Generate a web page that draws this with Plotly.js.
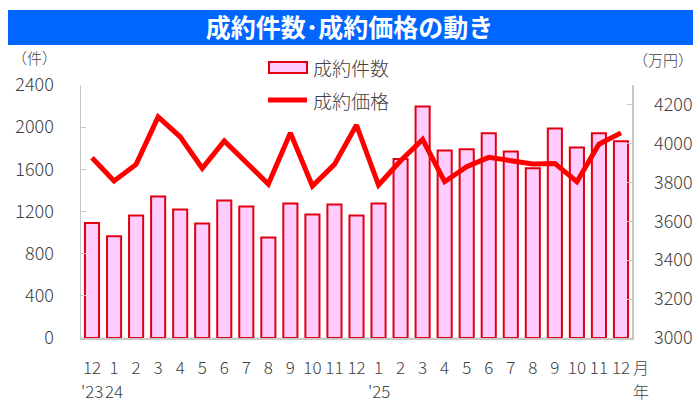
<!DOCTYPE html>
<html>
<head>
<meta charset="utf-8">
<script src="https://cdn.plot.ly/plotly-3.0.1.min.js"></script>
<style>
  html, body { margin: 0; padding: 0; background: #ffffff; }
  #graph { width: 699px; height: 406px; }
</style>
</head>
<body>
<div id="graph"></div>
<script>
// months along the x axis, Dec 2023 .. Dec 2025
var months = ['12', '1', '2', '3', '4', '5', '6', '7', '8', '9', '10', '11', '12',
              '1', '2', '3', '4', '5', '6', '7', '8', '9', '10', '11', '12'];
// year marks under some of the months (index into months)
var yearAt = [0, 1, 13];
var yearText = ["'23", '24', "'25"];

// number of contracts (left axis, 件)
var counts = [1090, 965, 1162, 1342, 1219, 1086, 1304, 1247, 954, 1276, 1172, 1266, 1162,
              1276, 1697, 2195, 1778, 1791, 1943, 1769, 1611, 1987, 1807, 1943, 1867];
// contract price (right axis, 万円)
var prices = [3926, 3807, 3892, 4136, 4034, 3872, 4013, 3906, 3791, 4054, 3781, 3892, 4094,
              3786, 3911, 4020, 3803, 3880, 3928, 3911, 3894, 3897, 3803, 3996, 4054];

var textColor = '#404040';
var font = 'Noto Sans CJK JP, sans-serif';

// category index keeps the repeated month names apart
var idx = months.map(function(m, i) { return i; });

var barTrace = {
    x: idx,
    y: counts,
    type: 'bar',
    name: '成約件数',
    marker: {color: '#ffccff', line: {color: '#e00010', width: 2}},
    showlegend: false,
    hoverinfo: 'skip'
};

var lineTrace = {
    x: idx,
    y: prices,
    type: 'scatter',
    mode: 'lines',
    name: '成約価格',
    yaxis: 'y2',
    line: {color: '#ff0000', width: 5},
    showlegend: false,
    hoverinfo: 'skip'
};

// helper: pixel -> paper coordinates for the plot area
var L = 81, R = 632, T = 85, B = 338;
function px(x) { return (x - L) / (R - L); }
function py(y) { return (B - y) / (B - T); }

var tickFont = {family: font, size: 18, color: textColor, weight: 300};

var annotations = [
    {text: '成約件数', xref: 'paper', yref: 'paper', x: px(311), y: py(68),
     xanchor: 'left', yanchor: 'middle', showarrow: false,
     font: {family: font, size: 19, color: textColor, weight: 300}},
    {text: '成約価格', xref: 'paper', yref: 'paper', x: px(311), y: py(100),
     xanchor: 'left', yanchor: 'middle', showarrow: false,
     font: {family: font, size: 19, color: textColor, weight: 300}},
    {text: '（件）', xref: 'paper', yref: 'paper', x: px(58), y: py(58),
     xanchor: 'right', yanchor: 'middle', showarrow: false, borderpad: 0,
     font: {family: font, size: 15, color: textColor, weight: 300}},
    {text: '（万円）', xref: 'paper', yref: 'paper', x: px(694), y: py(60),
     xanchor: 'right', yanchor: 'middle', showarrow: false, borderpad: 0,
     font: {family: font, size: 15, color: textColor, weight: 300}},
    {text: '月', xref: 'paper', yref: 'paper', x: px(632), y: py(367),
     xanchor: 'left', yanchor: 'middle', showarrow: false, borderpad: 0,
     font: {family: font, size: 16, color: textColor, weight: 300}},
    {text: '年', xref: 'paper', yref: 'paper', x: px(632), y: py(391),
     xanchor: 'left', yanchor: 'middle', showarrow: false, borderpad: 0,
     font: {family: font, size: 16, color: textColor, weight: 300}}
];
// year labels sit under their month on the x scale
yearAt.forEach(function(i, k) {
    annotations.push({
        text: yearText[k], xref: 'x', yref: 'paper', x: i, y: py(390),
        xanchor: 'center', yanchor: 'middle', showarrow: false, borderpad: 0,
        font: {family: font, size: 17, color: textColor, weight: 300}
    });
});

var layout = {
    width: 699,
    height: 406,
    margin: {l: L, r: 699 - R, t: T, b: 406 - B},
    paper_bgcolor: '#ffffff',
    plot_bgcolor: '#ffffff',
    font: {family: font, color: textColor},
    title: {
        text: '<b>成約件数･成約価格の動き</b>',
        font: {family: font, size: 25, color: '#ffffff'},
        x: 0.5, xanchor: 'center',
        y: 1 - 28 / 406, yanchor: 'middle'
    },
    bargap: 0.36,
    xaxis: {
        type: 'linear',
        range: [-0.5, 24.5],
        tickmode: 'array',
        tickvals: idx,
        ticktext: months,
        tickangle: 0,
        ticks: '',
        showgrid: false,
        zeroline: false,
        showline: true,
        linecolor: '#c8c8c8',
        linewidth: 1.5,
        tickfont: {family: font, size: 17, color: textColor, weight: 300},
        ticklabelstandoff: 14,
        fixedrange: true
    },
    yaxis: {
        range: [0, 2400],
        dtick: 400,
        tick0: 0,
        ticks: 'inside',
        ticklen: 5,
        tickcolor: '#c8c8c8',
        showgrid: false,
        zeroline: false,
        showline: true,
        linecolor: '#c8c8c8',
        linewidth: 1.5,
        tickfont: tickFont,
        ticklabelstandoff: 22,
        fixedrange: true
    },
    yaxis2: {
        overlaying: 'y',
        side: 'right',
        range: [3000, 4300],
        tickmode: 'array',
        tickvals: [3000, 3200, 3400, 3600, 3800, 4000, 4200],
        ticks: 'inside',
        ticklen: 5,
        tickcolor: '#c8c8c8',
        showgrid: false,
        zeroline: false,
        showline: true,
        linecolor: '#c8c8c8',
        linewidth: 1.5,
        tickfont: tickFont,
        ticklabelstandoff: 17,
        fixedrange: true
    },
    shapes: [
        // blue title band
        {type: 'rect', xref: 'paper', yref: 'paper', layer: 'below',
         x0: px(8), x1: px(693), y0: py(45), y1: py(10),
         fillcolor: '#0066ff', line: {width: 0}},
        // legend: bar swatch
        {type: 'rect', xref: 'paper', yref: 'paper',
         x0: px(269), x1: px(307), y0: py(73), y1: py(62),
         fillcolor: '#ffccff', line: {color: '#e00010', width: 2}},
        // legend: line swatch
        {type: 'line', xref: 'paper', yref: 'paper',
         x0: px(268), x1: px(307), y0: py(100), y1: py(100),
         line: {color: '#ff0000', width: 5}}
    ],
    annotations: annotations
};

Plotly.newPlot('graph', [barTrace, lineTrace], layout, {displayModeBar: false, staticPlot: true});
</script>
</body>
</html>
